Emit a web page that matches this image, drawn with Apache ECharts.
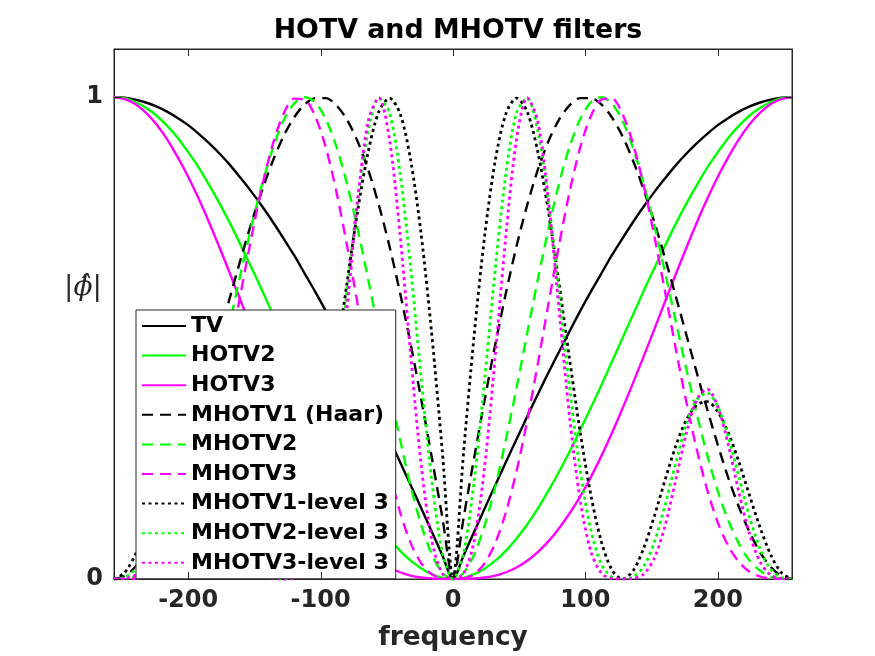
<!DOCTYPE html>
<html>
<head>
<meta charset="utf-8">
<script src="https://cdn.jsdelivr.net/npm/echarts@6/dist/echarts.min.js"></script>
<style>
  html, body { margin: 0; background: #fff; }
  #chart { width: 875px; height: 656px; }
</style>
</head>
<body>
<div id="chart"></div>
<script>
// frequency samples (step 8)
const freq = [-256,-248,-240,-232,-224,-216,-208,-200,-192,-184,-176,-168,-160,-152,-144,-136,
  -128,-120,-112,-104,-96,-88,-80,-72,-64,-56,-48,-40,-32,-24,-16,-8,0,
  8,16,24,32,40,48,56,64,72,80,88,96,104,112,120,128,
  136,144,152,160,168,176,184,192,200,208,216,224,232,240,248,256];

const xTicks = [-200, -100, 0, 100, 200];
const yTicks = [0, 1];

const tv = [1.000,0.999,0.995,0.989,0.981,0.970,0.957,0.942,0.924,0.904,0.882,0.858,0.831,0.803,0.773,0.741,
  0.707,0.672,0.634,0.596,0.556,0.514,0.471,0.428,0.383,0.337,0.290,0.243,0.195,0.147,0.098,0.049,0,
  0.049,0.098,0.147,0.195,0.243,0.290,0.337,0.383,0.428,0.471,0.514,0.556,0.596,0.634,0.672,0.707,
  0.741,0.773,0.803,0.831,0.858,0.882,0.904,0.924,0.942,0.957,0.970,0.981,0.989,0.995,0.999,1.000];

const hotv2 = [1.000,0.998,0.990,0.978,0.962,0.941,0.916,0.886,0.854,0.817,0.778,0.736,0.691,0.645,0.598,0.549,
  0.500,0.451,0.402,0.355,0.309,0.264,0.222,0.183,0.146,0.113,0.084,0.059,0.038,0.022,0.010,0.002,0,
  0.002,0.010,0.022,0.038,0.059,0.084,0.113,0.146,0.183,0.222,0.264,0.309,0.355,0.402,0.451,0.500,
  0.549,0.598,0.645,0.691,0.736,0.778,0.817,0.854,0.886,0.916,0.941,0.962,0.978,0.990,0.998,1.000];

const hotv3 = [1.000,0.996,0.986,0.968,0.944,0.913,0.876,0.835,0.789,0.739,0.686,0.631,0.575,0.518,0.462,0.407,
  0.354,0.303,0.255,0.211,0.171,0.136,0.105,0.078,0.056,0.038,0.024,0.014,0.007,0.003,0.001,0.000,0,
  0.000,0.001,0.003,0.007,0.014,0.024,0.038,0.056,0.078,0.105,0.136,0.171,0.211,0.255,0.303,0.354,
  0.407,0.462,0.518,0.575,0.631,0.686,0.739,0.789,0.835,0.876,0.913,0.944,0.968,0.986,0.996,1.000];

const mhotv1 = [0.000,0.006,0.025,0.055,0.097,0.149,0.209,0.278,0.352,0.429,0.509,0.589,0.667,0.741,0.808,0.868,
  0.919,0.958,0.985,0.998,0.998,0.983,0.953,0.908,0.849,0.776,0.691,0.594,0.488,0.373,0.252,0.127,0,
  0.127,0.252,0.373,0.488,0.594,0.691,0.776,0.849,0.908,0.953,0.983,0.998,0.998,0.985,0.958,0.919,
  0.868,0.808,0.741,0.667,0.589,0.509,0.429,0.352,0.278,0.209,0.149,0.097,0.055,0.025,0.006,0.000];

const mhotv2 = [0.000,0.001,0.005,0.017,0.038,0.073,0.121,0.182,0.257,0.344,0.438,0.538,0.638,0.734,0.821,0.894,
  0.951,0.987,1.000,0.989,0.954,0.897,0.820,0.726,0.621,0.510,0.397,0.290,0.193,0.112,0.051,0.013,0,
  0.013,0.051,0.112,0.193,0.290,0.397,0.510,0.621,0.726,0.820,0.897,0.954,0.989,1.000,0.987,0.951,
  0.894,0.821,0.734,0.638,0.538,0.438,0.344,0.257,0.182,0.121,0.073,0.038,0.017,0.005,0.001,0.000];

const mhotv3 = [0.000,0.000,0.001,0.005,0.015,0.035,0.068,0.117,0.185,0.270,0.370,0.481,0.598,0.712,0.817,0.903,
  0.965,0.997,0.995,0.960,0.895,0.803,0.692,0.570,0.446,0.328,0.224,0.139,0.075,0.033,0.010,0.001,0,
  0.001,0.010,0.033,0.075,0.139,0.224,0.328,0.446,0.570,0.692,0.803,0.895,0.960,0.995,0.997,0.965,
  0.903,0.817,0.712,0.598,0.481,0.370,0.270,0.185,0.117,0.068,0.035,0.015,0.005,0.001,0.000,0.000];

const mhotv1L3 = [0.000,0.013,0.050,0.106,0.173,0.242,0.303,0.347,0.368,0.361,0.329,0.274,0.204,0.130,0.064,0.017,
  0.000,0.019,0.078,0.176,0.306,0.457,0.615,0.764,0.887,0.970,0.998,0.966,0.870,0.714,0.507,0.263,0,
  0.263,0.507,0.714,0.870,0.966,0.998,0.970,0.887,0.764,0.615,0.457,0.306,0.176,0.078,0.019,0.000,
  0.017,0.064,0.130,0.204,0.274,0.329,0.361,0.368,0.347,0.303,0.242,0.173,0.106,0.050,0.013,0.000];

const mhotv2L3 = [0.000,0.003,0.020,0.062,0.128,0.211,0.294,0.357,0.386,0.372,0.319,0.239,0.152,0.076,0.026,0.004,
  0.000,0.004,0.031,0.103,0.227,0.398,0.596,0.786,0.931,0.998,0.968,0.843,0.646,0.417,0.204,0.054,0,
  0.054,0.204,0.417,0.646,0.843,0.968,0.998,0.931,0.786,0.596,0.398,0.227,0.103,0.031,0.004,0.000,
  0.004,0.026,0.076,0.152,0.239,0.319,0.372,0.386,0.357,0.294,0.211,0.128,0.062,0.020,0.003,0.000];

const mhotv3L3 = [0.000,0.001,0.008,0.035,0.093,0.179,0.277,0.357,0.394,0.372,0.300,0.203,0.109,0.043,0.010,0.001,
  0.000,0.001,0.012,0.058,0.164,0.338,0.562,0.787,0.950,0.999,0.913,0.715,0.466,0.236,0.080,0.011,0,
  0.011,0.080,0.236,0.466,0.715,0.913,0.999,0.950,0.787,0.562,0.338,0.164,0.058,0.012,0.001,0.000,
  0.001,0.010,0.043,0.109,0.203,0.300,0.372,0.394,0.357,0.277,0.179,0.093,0.035,0.008,0.001,0.000];

const seriesNames = ['TV', 'HOTV2', 'HOTV3', 'MHOTV1 (Haar)', 'MHOTV2', 'MHOTV3',
  'MHOTV1-level 3', 'MHOTV2-level 3', 'MHOTV3-level 3'];
const seriesValues = [tv, hotv2, hotv3, mhotv1, mhotv2, mhotv3, mhotv1L3, mhotv2L3, mhotv3L3];

const BLACK = '#000000', GREEN = '#00ff00', MAGENTA = '#ff00ff';
const colors = [BLACK, GREEN, MAGENTA, BLACK, GREEN, MAGENTA, BLACK, GREEN, MAGENTA];
const SOLID = 'solid', DASH = [11, 7], DOT = [3, 3.5];
const dashes = [SOLID, SOLID, SOLID, DASH, DASH, DASH, DOT, DOT, DOT];
const widths = [2.4, 2.4, 2.4, 2.4, 2.4, 2.4, 2.8, 2.8, 2.8];

const FONT = 'DejaVu Sans';
const AXIS_COLOR = '#262626';
const TICK_LEN = 7;

const chart = echarts.init(document.getElementById('chart'));

const series = seriesNames.map((name, i) => ({
  name: name,
  type: 'line',
  data: freq.map((f, j) => [f, seriesValues[i][j]]),
  symbol: 'none',
  showSymbol: false,
  smooth: 0.3,
  color: colors[i],
  lineStyle: { color: colors[i], width: widths[i], type: dashes[i] }
}));

function axisLine() {
  return { show: true, onZero: false, lineStyle: { color: AXIS_COLOR, width: 1 } };
}

const yLabel = {
  type: 'text',
  left: 64,
  top: 274,
  style: {
    text: '|\u03D5\u0302|',
    font: 'italic 28px "DejaVu Serif"',
    fill: '#262626'
  }
};

const option = {
  animation: false,
  backgroundColor: '#ffffff',
  title: {
    text: 'HOTV and MHOTV filters',
    left: 453,
    textAlign: 'center',
    top: 13,
    textStyle: { fontFamily: FONT, fontSize: 26.8, fontWeight: 'bold', color: '#000' }
  },
  grid: {
    left: 114, right: 83, top: 49, bottom: 73,
    show: true, borderColor: AXIS_COLOR, borderWidth: 1
  },
  legend: {
    orient: 'vertical',
    left: 136,
    top: 310,
    itemWidth: 44,
    itemHeight: 20,
    itemGap: 7.6,
    padding: [5, 7, 5, 5],
    backgroundColor: '#fff',
    borderColor: AXIS_COLOR,
    borderWidth: 1,
    borderRadius: 0,
    itemStyle: { opacity: 0 },
    textStyle: { fontFamily: FONT, fontSize: 22, fontWeight: 'bold', color: '#000' },
    data: seriesNames
  },
  xAxis: [{
    type: 'value', min: -256, max: 256, position: 'bottom',
    axisLine: axisLine(),
    axisTick: { show: false },
    axisLabel: { customValues: xTicks, margin: 10, fontFamily: FONT, fontSize: 24, fontWeight: 'bold', color: AXIS_COLOR },
    splitLine: { show: false },
    name: 'frequency', nameLocation: 'middle', nameGap: 46,
    nameTextStyle: { fontFamily: FONT, fontSize: 26.4, fontWeight: 'bold', color: AXIS_COLOR }
  }, {
    type: 'value', min: -256, max: 256, position: 'top',
    axisLine: axisLine(),
    axisTick: { show: false },
    axisLabel: { show: false },
    splitLine: { show: false }
  }],
  yAxis: [{
    type: 'value', min: 0, max: 1.1, position: 'left',
    axisLine: axisLine(),
    axisTick: { show: false },
    axisLabel: { customValues: yTicks, margin: 11, fontFamily: FONT, fontSize: 24, fontWeight: 'bold', color: AXIS_COLOR },
    splitLine: { show: false }
  }, {
    type: 'value', min: 0, max: 1.1, position: 'right',
    axisLine: axisLine(),
    axisTick: { show: false },
    axisLabel: { show: false },
    splitLine: { show: false }
  }],
  graphic: [yLabel],
  series: series
};

chart.setOption(option);

// inward tick marks on all four sides, placed through the axes' own scales
const px = v => chart.convertToPixel({ xAxisIndex: 0 }, v);
const py = v => chart.convertToPixel({ yAxisIndex: 0 }, v);
const yBottom = py(0), yTop = py(1.1), xLeft = px(-256), xRight = px(256);
const tickStyle = { stroke: AXIS_COLOR, lineWidth: 1 };
const tickMarks = [];
xTicks.forEach(v => {
  const x = Math.round(px(v)) + 0.5;
  tickMarks.push({ type: 'line', z: 10, shape: { x1: x, y1: yBottom, x2: x, y2: yBottom - TICK_LEN }, style: tickStyle });
  tickMarks.push({ type: 'line', z: 10, shape: { x1: x, y1: yTop, x2: x, y2: yTop + TICK_LEN }, style: tickStyle });
});
yTicks.forEach(v => {
  const y = Math.round(py(v)) + 0.5;
  tickMarks.push({ type: 'line', z: 10, shape: { x1: xLeft, y1: y, x2: xLeft + TICK_LEN, y2: y }, style: tickStyle });
  tickMarks.push({ type: 'line', z: 10, shape: { x1: xRight, y1: y, x2: xRight - TICK_LEN, y2: y }, style: tickStyle });
});
chart.setOption({ graphic: [yLabel].concat(tickMarks) });
</script>
</body>
</html>
